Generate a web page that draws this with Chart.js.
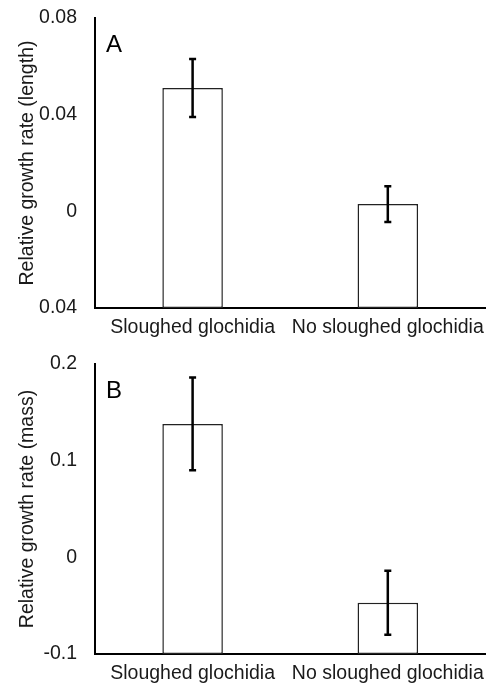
<!DOCTYPE html>
<html>
<head>
<meta charset="utf-8">
<script src="https://cdn.jsdelivr.net/npm/chart.js@4.4.0/dist/chart.umd.min.js"></script>
<style>
  html, body { margin: 0; padding: 0; background: #fff; }
  .panel { width: 493px; height: 346px; position: relative; }
</style>
</head>
<body>
<div class="panel"><canvas id="chart-length" width="493" height="346"></canvas></div>
<div class="panel"><canvas id="chart-mass" width="493" height="346"></canvas></div>
<script>
// Data
const categories = ['Sloughed glochidia', 'No sloughed glochidia'];

const lengthValues = [0.051, 0.003];
const lengthErrors = [0.012, 0.0074];
const lengthTicks = [-0.04, 0, 0.04, 0.08];
const lengthTickLabels = ['0.04', '0', '0.04', '0.08']; // as printed (no minus sign)

const massValues = [0.138, -0.047];
const massErrors = [0.048, 0.033];
const massTicks = [-0.1, 0, 0.1, 0.2];
const massTickLabels = ['-0.1', '0', '0.1', '0.2'];

const FONT = "'Liberation Sans', Arial, sans-serif";
const TEXT_COLOR = '#1a1a1a';
const FONT_SIZE = 19.5;

// draws the error bars and panel letter
const errorBarPlugin = {
    id: 'errorBars',
    afterDatasetsDraw(chart, args, opts) {
        const ctx = chart.ctx;
        const yScale = chart.scales.y;
        const meta = chart.getDatasetMeta(0);
        const values = chart.data.datasets[0].data;
        ctx.save();
        ctx.strokeStyle = '#000';
        ctx.lineWidth = 2.5;
        meta.data.forEach((bar, i) => {
            const x = bar.x;
            const top = yScale.getPixelForValue(values[i] + opts.errors[i]);
            const bottom = yScale.getPixelForValue(values[i] - opts.errors[i]);
            ctx.beginPath();
            ctx.moveTo(x, top);
            ctx.lineTo(x, bottom);
            ctx.moveTo(x - 3.5, top);
            ctx.lineTo(x + 3.5, top);
            ctx.moveTo(x - 3.5, bottom);
            ctx.lineTo(x + 3.5, bottom);
            ctx.stroke();
        });
        // panel letter
        ctx.fillStyle = '#000';
        ctx.font = '24px ' + FONT;
        ctx.textBaseline = 'top';
        ctx.textAlign = 'left';
        ctx.fillText(opts.letter, chart.chartArea.left + 11, chart.chartArea.top + 15);
        ctx.restore();
    }
};

function makeChart(canvasId, values, errors, ticks, tickLabels, yTitle, letter) {
    const yMin = ticks[0];
    const yMax = ticks[ticks.length - 1];
    return new Chart(document.getElementById(canvasId), {
        type: 'bar',
        data: {
            labels: categories,
            datasets: [{
                data: values,
                base: yMin, // bars rise from the bottom of the axis
                backgroundColor: '#ffffff',
                borderColor: '#222',
                borderWidth: 1.5,
                borderSkipped: false,
                barPercentage: 0.31,
                categoryPercentage: 1.0
            }]
        },
        options: {
            responsive: false,
            animation: false,
            layout: { autoPadding: false, padding: { top: 18, right: 5, left: 0, bottom: 0 } },
            plugins: {
                legend: { display: false },
                tooltip: { enabled: false },
                errorBars: { errors: errors, letter: letter }
            },
            scales: {
                x: {
                    grid: { display: false, drawTicks: false },
                    border: { display: true, color: '#000', width: 2 },
                    ticks: { color: TEXT_COLOR, font: { family: FONT, size: FONT_SIZE }, padding: 8, maxRotation: 0 },
                    afterFit: (scale) => { scale.height = 38; }
                },
                y: {
                    min: yMin,
                    max: yMax,
                    afterBuildTicks: (scale) => { scale.ticks = ticks.map(v => ({ value: v })); },
                    grid: { display: false, drawTicks: false },
                    border: { display: true, color: '#000', width: 2 },
                    ticks: {
                        color: TEXT_COLOR,
                        font: { family: FONT, size: FONT_SIZE },
                        padding: 18,
                        callback: (value) => {
                            const idx = ticks.findIndex(t => Math.abs(t - value) < 1e-9);
                            return idx >= 0 ? tickLabels[idx] : '';
                        }
                    },
                    title: {
                        display: true,
                        text: yTitle,
                        color: TEXT_COLOR,
                        font: { family: FONT, size: FONT_SIZE },
                        padding: { top: 16, bottom: 0 }
                    },
                    afterFit: (scale) => {
                        scale.width = 95;
                        scale.paddingTop = 0;
                        scale.paddingBottom = 0;
                    }
                }
            }
        },
        plugins: [errorBarPlugin]
    });
}

makeChart('chart-length', lengthValues, lengthErrors, lengthTicks, lengthTickLabels,
    'Relative growth rate (length)', 'A');
makeChart('chart-mass', massValues, massErrors, massTicks, massTickLabels,
    'Relative growth rate (mass)', 'B');
</script>
</body>
</html>
